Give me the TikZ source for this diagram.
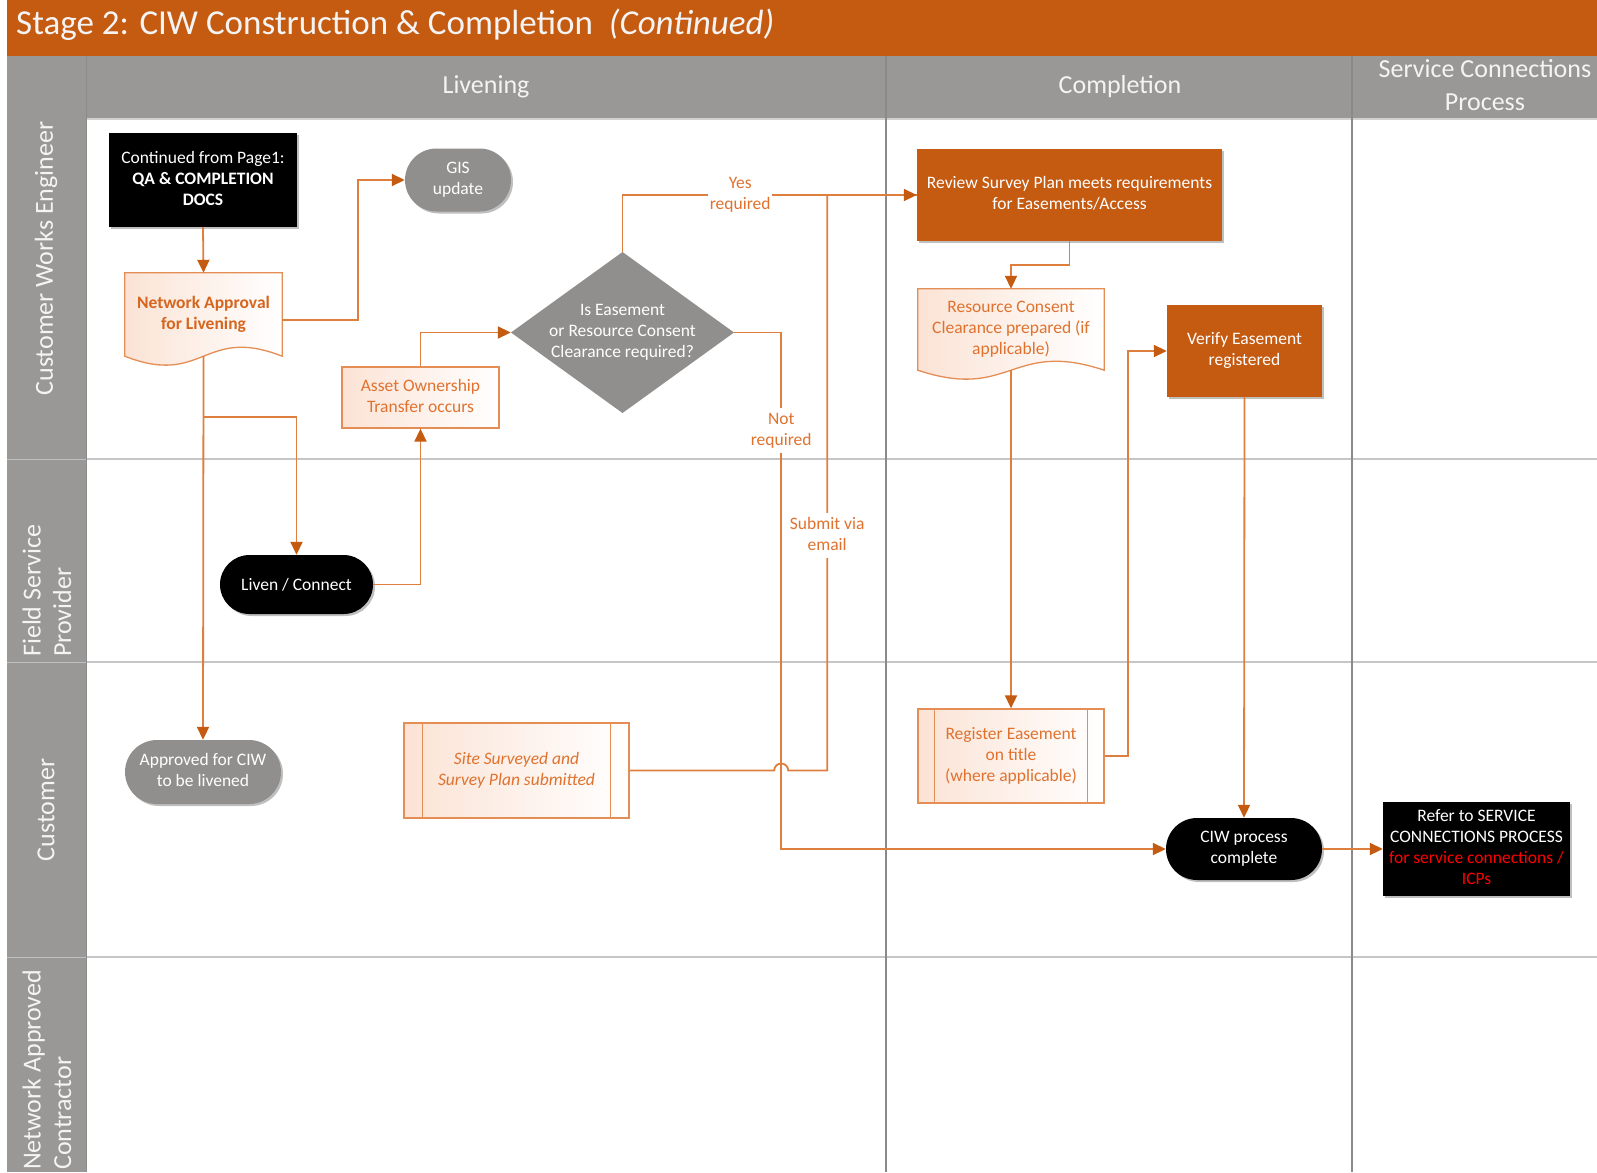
\documentclass[tikz,border=0pt]{standalone}
\usepackage{fontspec}
\setmainfont{Carlito}
\usetikzlibrary{shapes.misc,arrows.meta,calc,shadows}
\definecolor{titleor}{HTML}{C55A11}
\definecolor{hdrgrey}{HTML}{9A9896}
\definecolor{nodegrey}{HTML}{918F8D}
\definecolor{lineor}{HTML}{DF7F3D}
\definecolor{tipor}{HTML}{C55A11}
\definecolor{txtor}{HTML}{E0722F}
\definecolor{txtdark}{HTML}{D6651E}
\definecolor{bordor}{HTML}{E48D55}
\definecolor{pinkbg}{HTML}{FBE3D5}
\definecolor{lanesep}{HTML}{C6C6C6}
\definecolor{colsep}{HTML}{8A8A8A}
\definecolor{hdrtxt}{HTML}{F4F4F4}
\definecolor{refred}{HTML}{FF0000}
\pgfdeclarelayer{bg}
\pgfdeclarelayer{mid}
\pgfsetlayers{bg,mid,main}
\newcommand{\mlines}[1]{\begin{tabular}{@{}c@{}}#1\end{tabular}}
\newcommand{\boxfont}{\fontsize{17.5}{21}\selectfont}
\newcommand{\hdrfont}{\fontsize{26}{33}\selectfont}
\newcommand{\lanefont}{\fontsize{26}{30.5}\selectfont}
\tikzset{
  box/.style={inner sep=0pt, font=\boxfont},
  shad/.style={drop shadow={shadow xshift=2pt,shadow yshift=-2pt,opacity=0.25,fill=black}},
  blackbox/.style={box, rectangle, fill=black, text=white, shad},
  orbox/.style={box, rectangle, fill=titleor, text=white, shad},
  outbox/.style={box, rectangle, draw=bordor, line width=1.3pt, left color=pinkbg, middle color=white, right color=white, text=txtor},
  gstad/.style={box, rounded rectangle, fill=nodegrey, text=white, shad},
  bstad/.style={box, rounded rectangle, fill=black, text=white, shad},
  docnode/.style={box, rectangle, text=txtor},
  docshape/.style={draw=bordor, line width=1.3pt, left color=pinkbg, middle color=white, right color=white},
  conn/.style={draw=lineor, line width=1.8pt, -{Triangle[length=13pt,width=12pt,color=tipor]}},
  plain/.style={draw=lineor, line width=1.8pt},
  lbl/.style={font=\boxfont, text=txtor, fill=white, inner sep=1.5pt},
  hdr/.style={font=\hdrfont, text=hdrtxt, inner sep=0pt},
  lane/.style={font=\lanefont, text=hdrtxt, inner sep=0pt, rotate=90},
}
\begin{document}
\begin{tikzpicture}[x=1pt,y=-1pt]
\useasboundingbox (0,0) rectangle (1597,1172);
\begin{pgfonlayer}{bg}
  \fill[white] (0,0) rectangle (1597,1172);
  \fill[titleor] (7,0) rectangle (1597,56);
  \fill[hdrgrey] (7,56) rectangle (1597,118);
  \fill[hdrgrey] (7,118) rectangle (86,1172);
  \draw[black!18, line width=2pt] (86,119) -- (1597,119);
  \foreach \yy in {459,662,957} {
    \draw[lanesep, line width=1.5pt] (86,\yy) -- (1597,\yy);
    \draw[black!25, line width=1pt] (7,\yy) -- (86,\yy);
  }
  \foreach \xx in {886,1352} {
    \draw[colsep, line width=1.5pt] (\xx,56) -- (\xx,1172);
  }
  \draw[black!45, line width=1pt] (86,56) -- (86,1172);
\end{pgfonlayer}

% title and headers
\node[anchor=west, inner sep=0pt, text=hdrtxt, font=\fontsize{35}{40}\selectfont] (title) at (16,25) {Stage 2: CIW Construction \& Completion\ \ \textit{(Continued)}};
\node[hdr] (hliv) at (486,87) {Livening};
\node[hdr] (hcomp) at (1120,87) {Completion};
\node[hdr] (hsc) at (1485,87) {\mlines{Service Connections\\Process}};

% lane labels
\node[lane] (lcwe) at (46,258.5) {Customer Works Engineer};
\node[lane, anchor=west, align=left] (lfsp) at (47,657) {Field Service\\Provider};
\node[lane] (lcust) at (46,810) {Customer};
\node[lane, anchor=west, align=left] (lnac) at (47,1170) {Network Approved\\Contractor};

% nodes
\node[blackbox, minimum width=188pt, minimum height=94pt] (cont) at (203,180)
  {\mlines{Continued from Page1:\\\textbf{QA \& COMPLETION}\\\textbf{DOCS}}};
\node[docnode, minimum width=157pt, minimum height=83pt, text=txtdark] (na) at (203.5,314.5)
  {\raisebox{5.5pt}{\mlines{\textbf{Network Approval}\\\textbf{for Livening}}}};
\node[gstad, minimum width=106pt, minimum height=63pt] (gis) at (458,180) {\mlines{GIS\\update}};
\node[outbox, minimum width=157pt, minimum height=61pt] (asset) at (420.5,397.5)
  {\mlines{Asset Ownership\\Transfer occurs}};
\node[box, text=white, minimum width=223pt, minimum height=161pt,
  path picture={\fill[nodegrey] (path picture bounding box.north) -- (path picture bounding box.east) -- (path picture bounding box.south) -- (path picture bounding box.west) -- cycle;}]
  (dia) at (622.5,332.5) {\mlines{Is Easement\\or Resource Consent\\Clearance required?}};
\node[bstad, minimum width=153pt, minimum height=59pt] (liven) at (296.5,584.5) {Liven / Connect};
\node[gstad, minimum width=156pt, minimum height=64pt] (appr) at (203,772) {\mlines{Approved for CIW\\to be livened}};
\node[outbox, minimum width=225pt, minimum height=95pt] (site) at (516.5,770.5)
  {\mlines{\itshape Site Surveyed and\\\itshape Survey Plan submitted}};
\node[orbox, minimum width=305pt, minimum height=92pt] (review) at (1069.5,195)
  {\mlines{Review Survey Plan meets requirements\\for Easements/Access}};
\node[docnode, minimum width=186pt, minimum height=81pt] (rc) at (1011,329.5)
  {\raisebox{6.5pt}{\mlines{Resource Consent\\Clearance prepared (if\\applicable)}}};
\node[orbox, minimum width=155pt, minimum height=92pt] (verify) at (1244.5,351)
  {\mlines{Verify Easement\\registered}};
\node[outbox, minimum width=186pt, minimum height=94pt] (reg) at (1011,756)
  {\mlines{Register Easement\\on title\\(where applicable)}};
\node[bstad, minimum width=156pt, minimum height=62pt] (ciw) at (1244,849) {\mlines{CIW process\\complete}};
\node[blackbox, minimum width=187pt, minimum height=94pt] (refer) at (1476.5,849)
  {\mlines{Refer to SERVICE\\CONNECTIONS PROCESS\\\textcolor{refred}{for service connections /}\\\textcolor{refred}{ICPs}}};

% document shapes
\begin{pgfonlayer}{mid}
  \path[docshape] (na.north west) -- (na.north east) -- (na.south east)
    .. controls ($(na.south)+(0,-31)$) and ($(na.south)+(0,31)$) .. (na.south west) -- cycle;
  \path[docshape] (rc.north west) -- (rc.north east) -- (rc.south east)
    .. controls ($(rc.south)+(0,-31)$) and ($(rc.south)+(0,31)$) .. (rc.south west) -- cycle;
\end{pgfonlayer}

% predefined process inner lines
\draw[bordor, line width=1.3pt] ([xshift=19pt]site.north west) -- ([xshift=19pt]site.south west)
  ([xshift=-19pt]site.north east) -- ([xshift=-19pt]site.south east);
\draw[bordor, line width=1.3pt] ([xshift=17pt]reg.north west) -- ([xshift=17pt]reg.south west)
  ([xshift=-17pt]reg.north east) -- ([xshift=-17pt]reg.south east);

% connectors
\draw[conn] (cont.south) -- (na.north);
\draw[conn] ([yshift=-5.5pt]na.east) -- ++(76,0) |- (gis.west);
\draw[conn] (na.south) -- (appr.north);
\draw[conn] (na.south) ++(0,61) -| (liven.north);
\draw[conn] (liven.east) -| (asset.south);
\draw[conn] (asset.north) |- (dia.west);
\coordinate (nrx) at ($(dia.east)+(47,0)$);
\draw[plain] (site.east) -- ([xshift=-7pt]site.east -| nrx) arc[start angle=180,end angle=0,radius=7pt]
  -- ++(39,0) |- node[lbl, pos=0.204] (lsub) {\mlines{Submit via\\email}} (review.west);
\draw[conn] (dia.north) |- node[lbl, pos=0.70] (lyes) {\mlines{Yes\\required}} (review.west);
\draw[conn] (dia.east) -- (nrx) |- node[lbl, pos=0.095] (lnot) {\mlines{Not\\required}} (ciw.west);
\draw[conn] (review.south) -- ++(0,24) -| (rc.north);
\draw[conn] (rc.south) -- (reg.north);
\draw[conn] (reg.east) -- ++(23,0) |- (verify.west);
\draw[conn] (verify.south) -- (ciw.north);
\draw[conn] (ciw.east) -- (refer.west);
\end{tikzpicture}
\end{document}
